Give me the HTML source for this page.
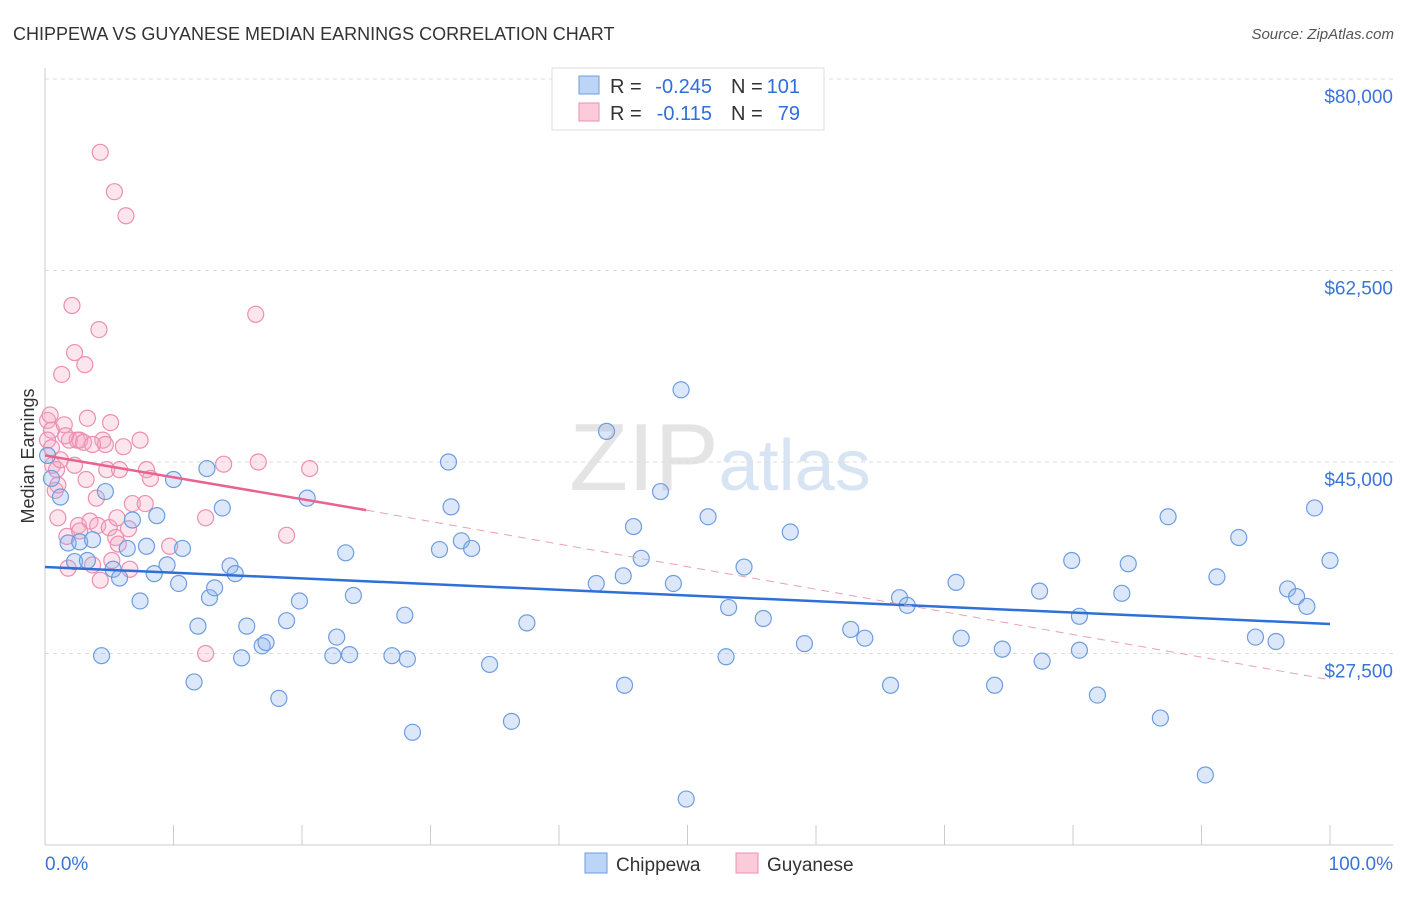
<!DOCTYPE html>
<html><head><meta charset="utf-8">
<style>
body{margin:0;background:#fff;font-family:"Liberation Sans",sans-serif;}
svg text{font-family:"Liberation Sans",sans-serif;}
</style></head>
<body>
<svg id="chart" width="1406" height="892" xmlns="http://www.w3.org/2000/svg">
<text x="13" y="40" font-size="18" fill="#333">CHIPPEWA VS GUYANESE MEDIAN EARNINGS CORRELATION CHART</text>
<text x="1394" y="39" font-size="15" fill="#555" text-anchor="end" font-style="italic">Source: ZipAtlas.com</text>
<text x="720" y="490" font-size="96" text-anchor="middle" fill="#e4e4e4" font-family="Liberation Serif">ZIP<tspan fill="#d7e4f4" font-family="Liberation Sans" font-size="72">atlas</tspan></text>
<text transform="translate(34,456) rotate(-90)" font-size="18" fill="#333" text-anchor="middle">Median Earnings</text>
<g id="grid"></g>
<g id="axes"></g>
<g id="points"></g>
<g id="trends"></g>
<g>
<rect x="552" y="68" width="272" height="62" fill="#fff" stroke="#ddd"/>
<rect x="579" y="76" width="20" height="18" fill="#bcd4f5" stroke="#6d9de0"/>
<rect x="579" y="103" width="20" height="18" fill="#fbcbda" stroke="#ec8fb0"/>
<g font-size="20">
<text x="610" y="93" fill="#333">R =</text>
<text x="712" y="93" fill="#2e6fd8" text-anchor="end">-0.245</text>
<text x="731" y="93" fill="#333">N =</text>
<text x="800" y="93" fill="#2e6fd8" text-anchor="end">101</text>
</g>
<g font-size="20">
<text x="610" y="120" fill="#333">R =</text>
<text x="712" y="120" fill="#2e6fd8" text-anchor="end">-0.115</text>
<text x="731" y="120" fill="#333">N =</text>
<text x="800" y="120" fill="#2e6fd8" text-anchor="end">79</text>
</g>
</g>
<g>
<rect x="585" y="853" width="22" height="20" fill="#bcd4f5" stroke="#6d9de0"/>
<text x="616" y="871" font-size="19" fill="#333">Chippewa</text>
<rect x="736" y="853" width="22" height="20" fill="#fbcbda" stroke="#ec8fb0"/>
<text x="767" y="871" font-size="19" fill="#333">Guyanese</text>
</g>
</svg>
<script>
const yTicks=[80000,62500,45000,27500];
const yTickLabels=["$80,000","$62,500","$45,000","$27,500"];
const xTickLabels=["0.0%","100.0%"];
const blueX=[0.2,0.5,1.2,1.8,2.3,2.7,3.3,3.7,4.4,4.7,5.3,5.8,6.4,6.8,7.4,7.9,8.5,8.7,9.5,10,10.4,10.7,11.6,11.9,12.6,12.8,13.2,13.8,14.4,14.8,15.3,15.7,16.9,17.2,18.2,18.8,19.8,20.4,22.4,22.7,23.4,23.7,24.0,27,28,28.2,28.6,30.7,31.4,31.6,32.4,33.2,34.6,36.3,37.5,42.9,43.7,45,45.1,45.8,46.4,47.9,48.9,49.5,49.9,51.6,53,53.2,54.4,55.9,58,59.1,62.7,63.8,65.8,66.5,67.1,70.9,71.3,73.9,74.5,77.4,77.6,79.9,80.5,80.5,81.9,83.8,84.3,86.8,87.4,90.3,91.2,92.9,94.2,95.8,96.7,97.4,98.2,98.8,100];
const blueY=[45.6,43.5,41.8,37.6,35.9,37.7,36.0,37.9,27.3,42.3,35.2,34.4,37.1,39.7,32.3,37.3,34.8,40.1,35.6,43.4,33.9,37.1,24.9,30.0,44.4,32.6,33.5,40.8,35.5,34.8,27.1,30.0,28.2,28.5,23.4,30.5,32.3,41.7,27.3,29.0,36.7,27.4,32.8,27.3,31.0,27.0,20.3,37.0,45.0,40.9,37.8,37.1,26.5,21.3,30.3,33.9,47.8,34.6,24.6,39.1,36.2,42.3,33.9,51.6,14.2,40.0,27.2,31.7,35.4,30.7,38.6,28.4,29.7,28.9,24.6,32.6,31.9,34.0,28.9,24.6,27.9,33.2,26.8,36.0,30.9,27.8,23.7,33.0,35.7,21.6,40.0,16.4,34.5,38.1,29.0,28.6,33.4,32.7,31.8,40.8,36.0];
const pinkX=[0.2,0.4,0.5,0.6,0.9,0.8,1,1.2,1,1.3,1.5,1.7,1.8,1.9,2.1,2.3,2.3,2.5,2.6,2.7,3,3.1,3.3,3.2,3.5,3.7,4,4.1,4.2,4.3,4.3,4.5,4.7,4.8,5,5.1,5.4,5.5,5.6,5.7,5.8,6.1,6.3,6.5,6.6,6.8,7.4,7.8,7.9,8.2,9.7,12.5,12.5,13.9,16.4,16.6,18.8,20.6,0.2,0.5,1.6,2.7,3.7,5.2];
const pinkY=[48.8,49.3,47.9,44.7,44.3,42.4,42.9,45.2,39.9,53.0,48.4,38.2,35.3,47.0,59.3,55.0,44.7,47.0,39.2,47.0,46.8,53.9,49.0,43.4,39.6,35.6,41.7,39.2,57.1,73.3,34.2,47.0,46.6,44.3,39.0,48.6,69.7,38.1,39.9,37.5,44.3,46.4,67.5,38.9,35.2,41.2,47.0,41.2,44.3,43.5,37.3,39.9,27.5,44.8,58.5,45.0,38.3,44.4,47.0,46.3,47.4,38.7,46.6,36.0];
const blueTrend=[[0,35.4],[100,30.2]];
const pinkTrendSolid=[[0,45.6],[25,40.6]];
const pinkTrendDash=[[25,40.6],[100,25.1]];
const NS="http://www.w3.org/2000/svg";
const xS=v=>45+v*12.85;
const yS=v=>79+(80-v)*191.5/17.5;
function mk(tag,attrs,parent){const e=document.createElementNS(NS,tag);for(const k in attrs)e.setAttribute(k,attrs[k]);document.getElementById(parent).appendChild(e);return e;}
yTicks.forEach((t,i)=>{
  const y=yS(t/1000);
  const g=mk('line',{x1:45,x2:1393,y1:y,y2:y,stroke:'#ddd','stroke-dasharray':'4,4'},'grid');
  
  
  const tx=mk('text',{x:1393,y:y+24,'font-size':19,fill:'#3b74d8','text-anchor':'end'},'axes');
  
  
  tx.textContent=yTickLabels[i];
});
const ax=mk('line',{x1:45,x2:1393,y1:845,y2:845,stroke:'#ccc'},'axes');


const ay=mk('line',{x1:45,x2:45,y1:68,y2:845,stroke:'#ccc'},'axes');


for(let i=1;i<=10;i++){
  const t=mk('line',{x1:xS(i*10),x2:xS(i*10),y1:825,y2:845,stroke:'#ccc'},'axes');
  
  
}
[[0,'start'],[100,'end']].forEach((p,i)=>{
  const t=mk('text',{x:i?1393:45,y:870,'font-size':19,fill:'#3b74d8','text-anchor':p[1]},'axes');
  
  
  t.textContent=xTickLabels[i];
});
pinkX.forEach((x,i)=>{
  const c=mk('circle',{cx:xS(x),cy:yS(pinkY[i]),r:8,fill:'rgba(246,170,196,0.3)',stroke:'#ec8fb0','stroke-width':1.2},'points');
  
  
});
blueX.forEach((x,i)=>{
  const c=mk('circle',{cx:xS(x),cy:yS(blueY[i]),r:8,fill:'rgba(140,180,240,0.3)',stroke:'#6d9de0','stroke-width':1.2},'points');
  
  
});
function line(d,attrs,name){const l=mk('line',Object.assign({x1:xS(d[0][0]),y1:yS(d[0][1]),x2:xS(d[1][0]),y2:yS(d[1][1])},attrs),'trends');
  
  }
line(blueTrend,{stroke:'#2e6fd8','stroke-width':2.5},'chippewa-trend-line');
line(pinkTrendSolid,{stroke:'#e8638f','stroke-width':2.5},'guyanese-trend-line');
line(pinkTrendDash,{stroke:'#e8a0b8','stroke-width':1,'stroke-dasharray':'8,6'},'guyanese-trend-extension');
</script>
</body></html>
